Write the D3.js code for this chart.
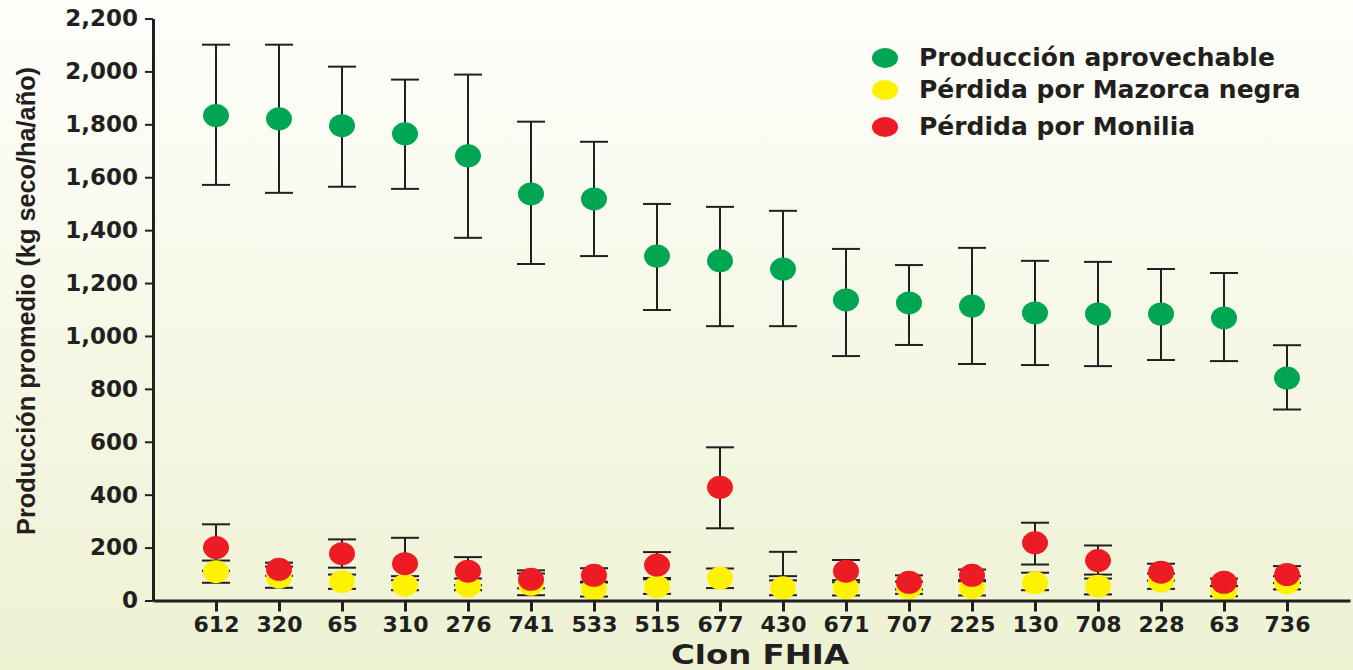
<!DOCTYPE html>
<html>
<head>
<meta charset="utf-8">
<script src="https://cdn.jsdelivr.net/npm/d3@7"></script>
<style>
    body { margin: 0; padding: 0; }
    svg { display: block; }
</style>
</head>
<body>
<div id="chart"></div>
<script>
// clones on the x axis
var clones = ["612", "320", "65", "310", "276", "741", "533", "515", "677", "430", "671", "707", "225", "130", "708", "228", "63", "736"];

// Producción aprovechable (mean, lower and upper end of the error bar)
var produccion = [1833, 1821, 1795, 1764, 1681, 1537, 1518, 1302, 1284, 1253, 1136, 1125, 1113, 1087, 1083, 1083, 1068, 841];
var produccionLow = [1571, 1541, 1564, 1556, 1371, 1272, 1302, 1098, 1037, 1037, 924, 966, 894, 890, 886, 909, 905, 722];
var produccionHigh = [2101, 2101, 2018, 1969, 1988, 1810, 1734, 1499, 1488, 1473, 1329, 1268, 1333, 1284, 1280, 1253, 1238, 965];

// Pérdida por Mazorca negra
var mazorca = [109, 88, 71, 58, 54, 61, 43, 52, 85, 48, 48, 48, 48, 67, 54, 73, 35, 67];
var mazorcaLow = [67, 48, 44, 39, 39, 20, 15, 25, 47, 20, 19, 25, 19, 39, 23, 44, 16, 42];
var mazorcaHigh = [151, 128, 98, 77, 83, 102, 71, 80, 121, 76, 77, 71, 77, 105, 83, 102, 54, 92];

// Pérdida por Monilia (no dot for 430, only its bar)
var monilia = [200, 118, 177, 139, 111, 80, 95, 134, 428, null, 111, 69, 95, 218, 151, 107, 69, 98];
var moniliaLow = [112, 93, 124, 92, 58, 46, 68, 85, 273, 92, 69, 42, 73, 136, 98, 75, 55, 66];
var moniliaHigh = [288, 143, 231, 237, 164, 114, 122, 183, 579, 184, 153, 95, 117, 294, 208, 139, 83, 130];

var yTicks = [0, 200, 400, 600, 800, 1000, 1200, 1400, 1600, 1800, 2000, 2200];

var seriesNames = ["Producción aprovechable", "Pérdida por Mazorca negra", "Pérdida por Monilia"];
var seriesColors = ["#00a651", "#fff200", "#ed1c24"];

// set the dimensions of the graph
var W = 1353, H = 670;
var margin = {top: 18.5, right: 3, bottom: 69.5, left: 153};
var ink = "#231f20";

var svg = d3.select("#chart").append("svg")
    .attr("width", W)
    .attr("height", H);

// background gradient
var grad = svg.append("defs").append("linearGradient")
    .attr("id", "bg")
    .attr("x1", 0).attr("y1", 0).attr("x2", 0).attr("y2", 1);
grad.append("stop").attr("offset", "0%").attr("stop-color", "#fefefb");
grad.append("stop").attr("offset", "100%").attr("stop-color", "#eef2d3");
svg.append("rect")
    .attr("width", W).attr("height", H)
    .attr("fill", "url(#bg)");

// set the ranges
var x = d3.scalePoint()
    .domain(clones)
    .range([margin.left, W - margin.right])
    .padding(1);
var y = d3.scaleLinear()
    .domain([0, 2200])
    .range([H - margin.bottom, margin.top]);

// build rows per series
function rows(mean, low, high) {
    return clones.map(function (c, i) {
        return {clon: c, v: mean[i], lo: low[i], hi: high[i]};
    });
}
var series = [
    {name: seriesNames[0], color: seriesColors[0], data: rows(produccion, produccionLow, produccionHigh)},
    {name: seriesNames[1], color: seriesColors[1], data: rows(mazorca, mazorcaLow, mazorcaHigh)},
    {name: seriesNames[2], color: seriesColors[2], data: rows(monilia, moniliaLow, moniliaHigh)}
];

// error bars first, dots go on top
var capW = 14;
series.forEach(function (s) {
    var g = svg.append("g").attr("stroke", ink).attr("stroke-width", 2);
    var bars = g.selectAll("g").data(s.data).enter().append("g");
    bars.append("line")
        .attr("x1", function (d) { return x(d.clon); })
        .attr("x2", function (d) { return x(d.clon); })
        .attr("y1", function (d) { return y(d.lo); })
        .attr("y2", function (d) { return y(d.hi); });
    bars.append("line")
        .attr("x1", function (d) { return x(d.clon) - capW; })
        .attr("x2", function (d) { return x(d.clon) + capW; })
        .attr("y1", function (d) { return y(d.hi); })
        .attr("y2", function (d) { return y(d.hi); });
    bars.append("line")
        .attr("x1", function (d) { return x(d.clon) - capW; })
        .attr("x2", function (d) { return x(d.clon) + capW; })
        .attr("y1", function (d) { return y(d.lo); })
        .attr("y2", function (d) { return y(d.lo); });
});

series.forEach(function (s) {
    svg.append("g").selectAll("ellipse")
        .data(s.data.filter(function (d) { return d.v != null; }))
        .enter()
        .append("ellipse")
        .attr("cx", function (d) { return x(d.clon); })
        .attr("cy", function (d) { return y(d.v); })
        .attr("rx", 13)
        .attr("ry", 11.5)
        .style("fill", s.color);
});

// add the Y Axis
var yAxis = svg.append("g")
    .attr("transform", "translate(" + margin.left + ",0)")
    .call(d3.axisLeft(y).tickValues(yTicks).tickFormat(d3.format(",")).tickSize(8).tickPadding(7).tickSizeOuter(0));
yAxis.select(".domain").attr("stroke", ink).attr("stroke-width", 3);
yAxis.selectAll(".tick line").attr("stroke", ink).attr("stroke-width", 2);
yAxis.selectAll("text")
    .attr("fill", ink)
    .style("font-family", "'DejaVu Sans', sans-serif")
    .style("font-weight", "bold")
    .style("font-size", "23px");

// add the X Axis
var xAxis = svg.append("g")
    .attr("transform", "translate(0," + y(0) + ")")
    .call(d3.axisBottom(x).tickSize(11).tickPadding(5).tickSizeOuter(0));
xAxis.select(".domain").attr("stroke", ink).attr("stroke-width", 3);
xAxis.selectAll(".tick line").attr("stroke", ink).attr("stroke-width", 3);
xAxis.selectAll("text")
    .attr("fill", ink)
    .style("font-family", "'DejaVu Sans', sans-serif")
    .style("font-weight", "bold")
    .style("font-size", "22px");

// axis titles
svg.append("text")
    .attr("text-anchor", "middle")
    .attr("transform", "translate(35,301)rotate(-90)")
    .attr("textLength", 468)
    .attr("lengthAdjust", "spacingAndGlyphs")
    .attr("fill", ink)
    .style("font-family", "'Liberation Sans Narrow', 'Liberation Sans', Arial, sans-serif")
    .style("font-weight", "bold")
    .style("font-size", "25px")
    .text("Producción promedio (kg seco/ha/año)");

svg.append("text")
    .attr("text-anchor", "middle")
    .attr("x", 760)
    .attr("y", 664)
    .attr("textLength", 178)
    .attr("lengthAdjust", "spacingAndGlyphs")
    .attr("fill", ink)
    .style("font-family", "'DejaVu Sans', sans-serif")
    .style("font-weight", "bold")
    .style("font-size", "27px")
    .text("Clon FHIA");

// legend
var legendY = [58, 90, 127];
var legend = svg.append("g").selectAll("g")
    .data(series)
    .enter()
    .append("g")
    .attr("transform", function (d, i) { return "translate(885," + legendY[i] + ")"; });
legend.append("ellipse")
    .attr("rx", 13)
    .attr("ry", 10)
    .style("fill", function (d) { return d.color; });
legend.append("text")
    .attr("x", 34)
    .attr("y", 8)
    .attr("fill", ink)
    .style("font-family", "'DejaVu Sans', sans-serif")
    .style("font-weight", "bold")
    .style("font-size", "25px")
    .text(function (d) { return d.name; });
</script>
</body>
</html>
